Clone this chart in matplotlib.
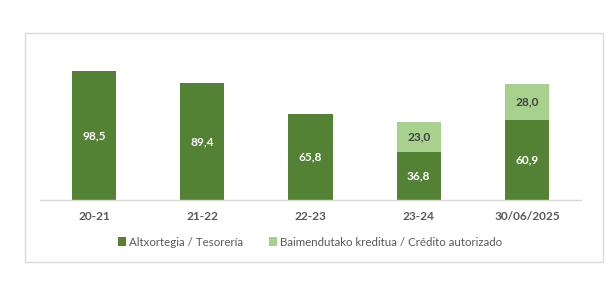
import matplotlib.pyplot as plt
import matplotlib.patches as patches
import numpy as np

plt.rcParams['font.family'] = ['Lato', 'DejaVu Sans']

# data
categories = ['20-21', '21-22', '22-23', '23-24', '30/06/2025']
tesoreria = [98.5, 89.4, 65.8, 36.8, 60.9]
credito = [0, 0, 0, 23.0, 28.0]
series_names = ['Altxortegia / Tesorería', 'Baimendutako kreditua / Crédito autorizado']

dark = '#548235'
light = '#A9D18E'
txt = '#595959'

W, H = 616, 293
fig = plt.figure(figsize=(W / 100, H / 100), dpi=100)

# outer border box
border = patches.Rectangle((25 / W, 1 - 262 / H), 578 / W, 229 / H,
                           transform=fig.transFigure, fill=False,
                           edgecolor='#D9D9D9', linewidth=1)
fig.patches.append(border)

ax = fig.add_axes([40 / W, 1 - 200 / H, 541 / W, 157 / H])
x = np.arange(len(categories))
ax.bar(x, tesoreria, width=0.41, color=dark, label=series_names[0])
ax.bar(x, credito, width=0.41, bottom=tesoreria, color=light, label=series_names[1])

ax.set_xlim(-0.5, len(categories) - 0.5)
ax.set_ylim(0, 120)

for i in range(len(categories)):
    ax.text(x[i], tesoreria[i] / 2, f'{tesoreria[i]:.1f}'.replace('.', ','),
            ha='center', va='center', color='white', fontsize=8.6, fontweight='bold')
    if credito[i] > 0:
        ax.text(x[i], tesoreria[i] + credito[i] / 2, f'{credito[i]:.1f}'.replace('.', ','),
                ha='center', va='center', color='#404040', fontsize=8.6, fontweight='bold')

for s in ['top', 'right', 'left']:
    ax.spines[s].set_visible(False)
ax.spines['bottom'].set_color('#D9D9D9')
ax.spines['bottom'].set_linewidth(1)
ax.set_yticks([])
ax.set_xticks(x)
ax.set_xticklabels(categories, fontsize=8.6, fontweight='bold', color=txt)
ax.tick_params(axis='x', length=0, pad=8)

leg = fig.legend(loc='center', bbox_to_anchor=(310 / W, 1 - 242 / H), ncol=2,
                 frameon=False, fontsize=8.3, handlelength=0.7, handleheight=0.7,
                 handletextpad=0.3, columnspacing=2.2)
for t in leg.get_texts():
    t.set_color(txt)

fig.savefig('out.png', dpi=100, facecolor='white')
